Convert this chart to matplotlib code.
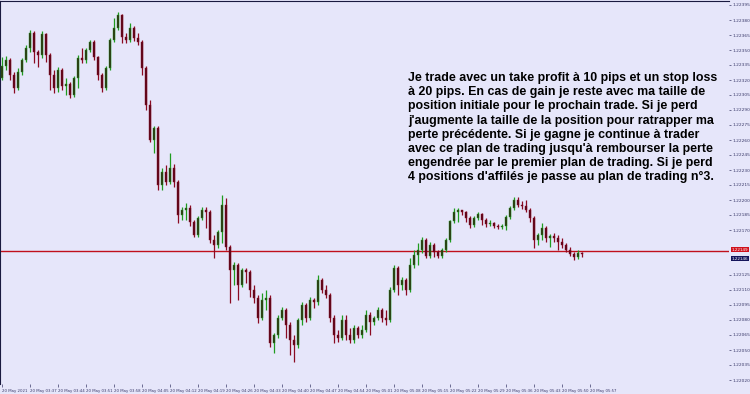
import matplotlib
matplotlib.use("Agg")
import matplotlib.pyplot as plt
import numpy as np

# ---------------- data (EUR/USD style prices) ----------------
opens = [1.22322,1.22334,1.22340,1.22325,1.22312,1.22328,1.22340,1.22352,1.22367,1.22348,
         1.22345,1.22366,1.22345,1.22325,1.22312,1.22330,1.22314,1.22316,1.22305,1.22322,
         1.22342,1.22340,1.22350,1.22358,1.22343,1.22325,1.22312,1.22332,1.22360,1.22372,
         1.22385,1.22363,1.22360,1.22372,1.22362,1.22358,1.22332,1.22295,1.22260,1.22272,
         1.22215,1.22228,1.22218,1.22232,1.22218,1.22185,1.22190,1.22192,1.22178,1.22165,
         1.22182,1.22190,1.22188,1.22160,1.22155,1.22168,1.22195,1.22153,1.22130,1.22135,
         1.22115,1.22130,1.22128,1.22110,1.22102,1.22082,1.22100,1.22102,1.22057,1.22065,
         1.22082,1.22090,1.22075,1.22060,1.22055,1.22080,1.22095,1.22082,1.22100,1.22098,
         1.22120,1.22110,1.22105,1.22082,1.22065,1.22062,1.22080,1.22065,1.22060,1.22072,
         1.22065,1.22070,1.22085,1.22078,1.22082,1.22090,1.22082,1.22080,1.22110,1.22132,
         1.22115,1.22120,1.22110,1.22135,1.22145,1.22150,1.22160,1.22144,1.22155,1.22148,
         1.22144,1.22150,1.22160,1.22179,1.22188,1.22190,1.22188,1.22182,1.22175,1.22182,
         1.22186,1.22180,1.22176,1.22177,1.22174,1.22173,1.22174,1.22183,1.22192,1.22200,
         1.22195,1.22194,1.22190,1.22182,1.22160,1.22165,1.22172,1.22162,1.22164,1.22162,
         1.22158,1.22155,1.22150,1.22146,1.22143,1.22147]
highs = [1.22343,1.22344,1.22342,1.22328,1.22332,1.22342,1.22355,1.22370,1.22369,1.22350,
         1.22369,1.22367,1.22347,1.22330,1.22333,1.22332,1.22322,1.22318,1.22324,1.22345,
         1.22352,1.22352,1.22360,1.22360,1.22344,1.22327,1.22334,1.22362,1.22382,1.22388,
         1.22386,1.22367,1.22377,1.22374,1.22367,1.22360,1.22334,1.22300,1.22274,1.22274,
         1.22232,1.22235,1.22247,1.22236,1.22220,1.22193,1.22197,1.22195,1.22180,1.22184,
         1.22193,1.22193,1.22190,1.22165,1.22170,1.22205,1.22202,1.22155,1.22138,1.22137,
         1.22132,1.22132,1.22130,1.22115,1.22105,1.22107,1.22110,1.22105,1.22067,1.22085,
         1.22093,1.22092,1.22078,1.22065,1.22082,1.22098,1.22097,1.22103,1.22102,1.22125,
         1.22122,1.22115,1.22107,1.22085,1.22070,1.22085,1.22085,1.22072,1.22075,1.22074,
         1.22075,1.22090,1.22088,1.22084,1.22093,1.22092,1.22090,1.22113,1.22135,1.22134,
         1.22123,1.22122,1.22142,1.22150,1.22157,1.22163,1.22162,1.22158,1.22157,1.22150,
         1.22152,1.22162,1.22180,1.22192,1.22192,1.22190,1.22189,1.22184,1.22184,1.22188,
         1.22187,1.22182,1.22180,1.22178,1.22176,1.22176,1.22185,1.22194,1.22203,1.22203,
         1.22199,1.22200,1.22192,1.22184,1.22167,1.22177,1.22174,1.22166,1.22167,1.22165,
         1.22162,1.22157,1.22153,1.22148,1.22150,1.22148]
lows  = [1.22320,1.22330,1.22320,1.22307,1.22310,1.22325,1.22338,1.22348,1.22337,1.22333,
         1.22342,1.22338,1.22310,1.22307,1.22308,1.22310,1.22305,1.22302,1.22303,1.22312,
         1.22337,1.22337,1.22348,1.22340,1.22320,1.22308,1.22310,1.22330,1.22358,1.22370,
         1.22357,1.22357,1.22358,1.22359,1.22355,1.22325,1.22290,1.22258,1.22247,1.22210,
         1.22210,1.22215,1.22216,1.22213,1.22177,1.22180,1.22180,1.22174,1.22163,1.22163,
         1.22180,1.22172,1.22157,1.22142,1.22152,1.22157,1.22150,1.22097,1.22115,1.22100,
         1.22113,1.22117,1.22103,1.22097,1.22077,1.22080,1.22090,1.22053,1.22047,1.22062,
         1.22080,1.22062,1.22045,1.22038,1.22052,1.22075,1.22078,1.22080,1.22092,1.22095,
         1.22107,1.22102,1.22078,1.22057,1.22058,1.22060,1.22060,1.22057,1.22057,1.22062,
         1.22062,1.22068,1.22065,1.22075,1.22080,1.22078,1.22075,1.22078,1.22108,1.22105,
         1.22110,1.22105,1.22108,1.22132,1.22135,1.22147,1.22142,1.22142,1.22143,1.22142,
         1.22142,1.22148,1.22158,1.22177,1.22178,1.22185,1.22178,1.22172,1.22173,1.22180,
         1.22175,1.22173,1.22174,1.22172,1.22171,1.22171,1.22170,1.22181,1.22190,1.22193,
         1.22191,1.22188,1.22178,1.22152,1.22155,1.22160,1.22158,1.22153,1.22158,1.22150,
         1.22152,1.22148,1.22144,1.22140,1.22141,1.22143]
closes = [1.22334,1.22340,1.22325,1.22312,1.22328,1.22340,1.22352,1.22367,1.22348,1.22345,
          1.22366,1.22345,1.22325,1.22312,1.22330,1.22314,1.22316,1.22305,1.22322,1.22342,
          1.22340,1.22350,1.22358,1.22343,1.22325,1.22312,1.22332,1.22360,1.22372,1.22385,
          1.22363,1.22360,1.22372,1.22362,1.22358,1.22332,1.22295,1.22260,1.22272,1.22215,
          1.22228,1.22218,1.22232,1.22218,1.22185,1.22190,1.22192,1.22178,1.22165,1.22182,
          1.22190,1.22188,1.22160,1.22155,1.22168,1.22195,1.22153,1.22130,1.22135,1.22115,
          1.22130,1.22128,1.22110,1.22102,1.22082,1.22100,1.22102,1.22057,1.22065,1.22082,
          1.22090,1.22075,1.22060,1.22055,1.22080,1.22095,1.22082,1.22100,1.22098,1.22120,
          1.22110,1.22105,1.22082,1.22065,1.22062,1.22080,1.22065,1.22060,1.22072,1.22065,
          1.22070,1.22085,1.22078,1.22082,1.22090,1.22082,1.22080,1.22110,1.22132,1.22115,
          1.22120,1.22110,1.22135,1.22145,1.22150,1.22160,1.22144,1.22155,1.22148,1.22144,
          1.22150,1.22160,1.22179,1.22188,1.22190,1.22188,1.22182,1.22175,1.22182,1.22186,
          1.22180,1.22176,1.22177,1.22174,1.22173,1.22174,1.22183,1.22192,1.22200,1.22195,
          1.22194,1.22190,1.22182,1.22160,1.22165,1.22172,1.22162,1.22164,1.22162,1.22158,
          1.22155,1.22150,1.22146,1.22143,1.22147,1.22146]

level_line = 1.22149       # red horizontal line
bid_price = 1.22146        # last price label

price_ticks = [1.22395,1.22380,1.22365,1.22350,1.22335,1.22320,1.22305,1.22290,1.22275,
               1.22260,1.22245,1.22230,1.22215,1.22200,1.22185,1.22170,
               1.22125,1.22110,1.22095,1.22080,1.22065,1.22050,1.22035,1.22020]

time_labels = ["20 May 2021","20 May 03:37","20 May 03:44","20 May 03:51","20 May 03:58",
               "20 May 04:05","20 May 04:12","20 May 04:19","20 May 04:26","20 May 04:33",
               "20 May 04:40","20 May 04:47","20 May 04:54","20 May 05:01","20 May 05:08",
               "20 May 05:15","20 May 05:22","20 May 05:29","20 May 05:36","20 May 05:43",
               "20 May 05:50","20 May 05:57"]
time_label_bars = [0,7,14,21,28,35,42,49,56,63,70,77,84,91,98,105,112,119,126,133,140,147]

note_lines = [
    "Je trade avec un take profit à 10 pips et un stop loss",
    "à 20 pips. En cas de gain je reste avec ma taille de",
    "position initiale pour le prochain trade. Si je perd",
    "j'augmente la taille de la position pour ratrapper ma",
    "perte précédente. Si je gagne je continue à trader",
    "avec ce plan de trading jusqu'à rembourser la perte",
    "engendrée par le premier plan de trading. Si je perd",
    "4 positions d'affilés je passe au plan de trading n°3.",
]

# ---------------- drawing ----------------
W, H = 750, 394
BG = "#E6E6FA"
fig = plt.figure(figsize=(W / 100, H / 100), dpi=100, facecolor=BG)
ax_left, ax_right, ax_top, ax_bot = 0, 729, 1, 384
ax = fig.add_axes([ax_left / W, (H - ax_bot) / H, (ax_right - ax_left) / W, (ax_bot - ax_top) / H])
ax.set_facecolor(BG)

o = np.array(opens); h = np.array(highs); l = np.array(lows); c = np.array(closes)
idx = np.arange(len(o))
up = c >= o

wick_up, wick_dn = "#1f9c1f", "#8a0a22"
body_up, body_dn = "#2e2e10", "#5a0618"

ax.vlines(idx[up], l[up], h[up], colors=wick_up, linewidth=0.9, zorder=2)
ax.vlines(idx[~up], l[~up], h[~up], colors=wick_dn, linewidth=0.9, zorder=2)
bh = np.abs(c - o)
bb = np.minimum(o, c)
ax.bar(idx[up], np.maximum(bh[up], 0.000005), bottom=bb[up], width=0.5,
       color=body_up, edgecolor=wick_up, linewidth=0.3, zorder=3)
ax.bar(idx[~up], np.maximum(bh[~up], 0.000005), bottom=bb[~up], width=0.5,
       color=body_dn, edgecolor=wick_dn, linewidth=0.3, zorder=3)

ax.axhline(level_line, color="#c0101c", linewidth=1.0, zorder=1)

ax.set_xlim(-0.5, 181.7)
ax.set_ylim(1.22016, 1.22399)

# right price axis
ax.yaxis.tick_right()
ax.set_yticks(price_ticks)
ax.set_yticklabels([f"{v:.5f}" for v in price_ticks])
ax.tick_params(axis="y", direction="out", length=1.5, width=0.5, colors="#3a3a6a",
               labelsize=3.2, pad=1.0)

# bottom time axis
ax.set_xticks(time_label_bars)
ax.set_xticklabels(time_labels, ha="left")
ax.tick_params(axis="x", direction="out", length=2, width=0.5, colors="#3a3a6a",
               labelsize=2.8, pad=1.5)

for side in ["top", "left"]:
    ax.spines[side].set_color("#1a1a40")
    ax.spines[side].set_linewidth(0.8)
for side in ["bottom", "right"]:
    ax.spines[side].set_visible(False)

# price labels for level line / last price
def frac_y(v):
    lo, hi = ax.get_ylim()
    return (v - lo) / (hi - lo)

ax.text(1.004, frac_y(level_line) + 0.003, f"{level_line:.5f}", transform=ax.transAxes,
        fontsize=3.0, color="white", va="center", ha="left",
        bbox=dict(boxstyle="square,pad=0.1", fc="#d0101c", ec="none"), zorder=5, clip_on=False)
ax.text(1.004, frac_y(bid_price) - 0.012, f"{bid_price:.5f}", transform=ax.transAxes,
        fontsize=3.0, color="white", va="center", ha="left",
        bbox=dict(boxstyle="square,pad=0.1", fc="#14145a", ec="none"), zorder=5, clip_on=False)

# annotation text
for k, line in enumerate(note_lines):
    y_px = 78 + 14.2 * k
    fig.text(408 / W, 1 - y_px / H, line, fontsize=8.9, fontweight="bold",
             family=["Liberation Sans", "DejaVu Sans"], color="black", va="center", ha="left")

fig.savefig("out.png", dpi=100, facecolor=BG)
